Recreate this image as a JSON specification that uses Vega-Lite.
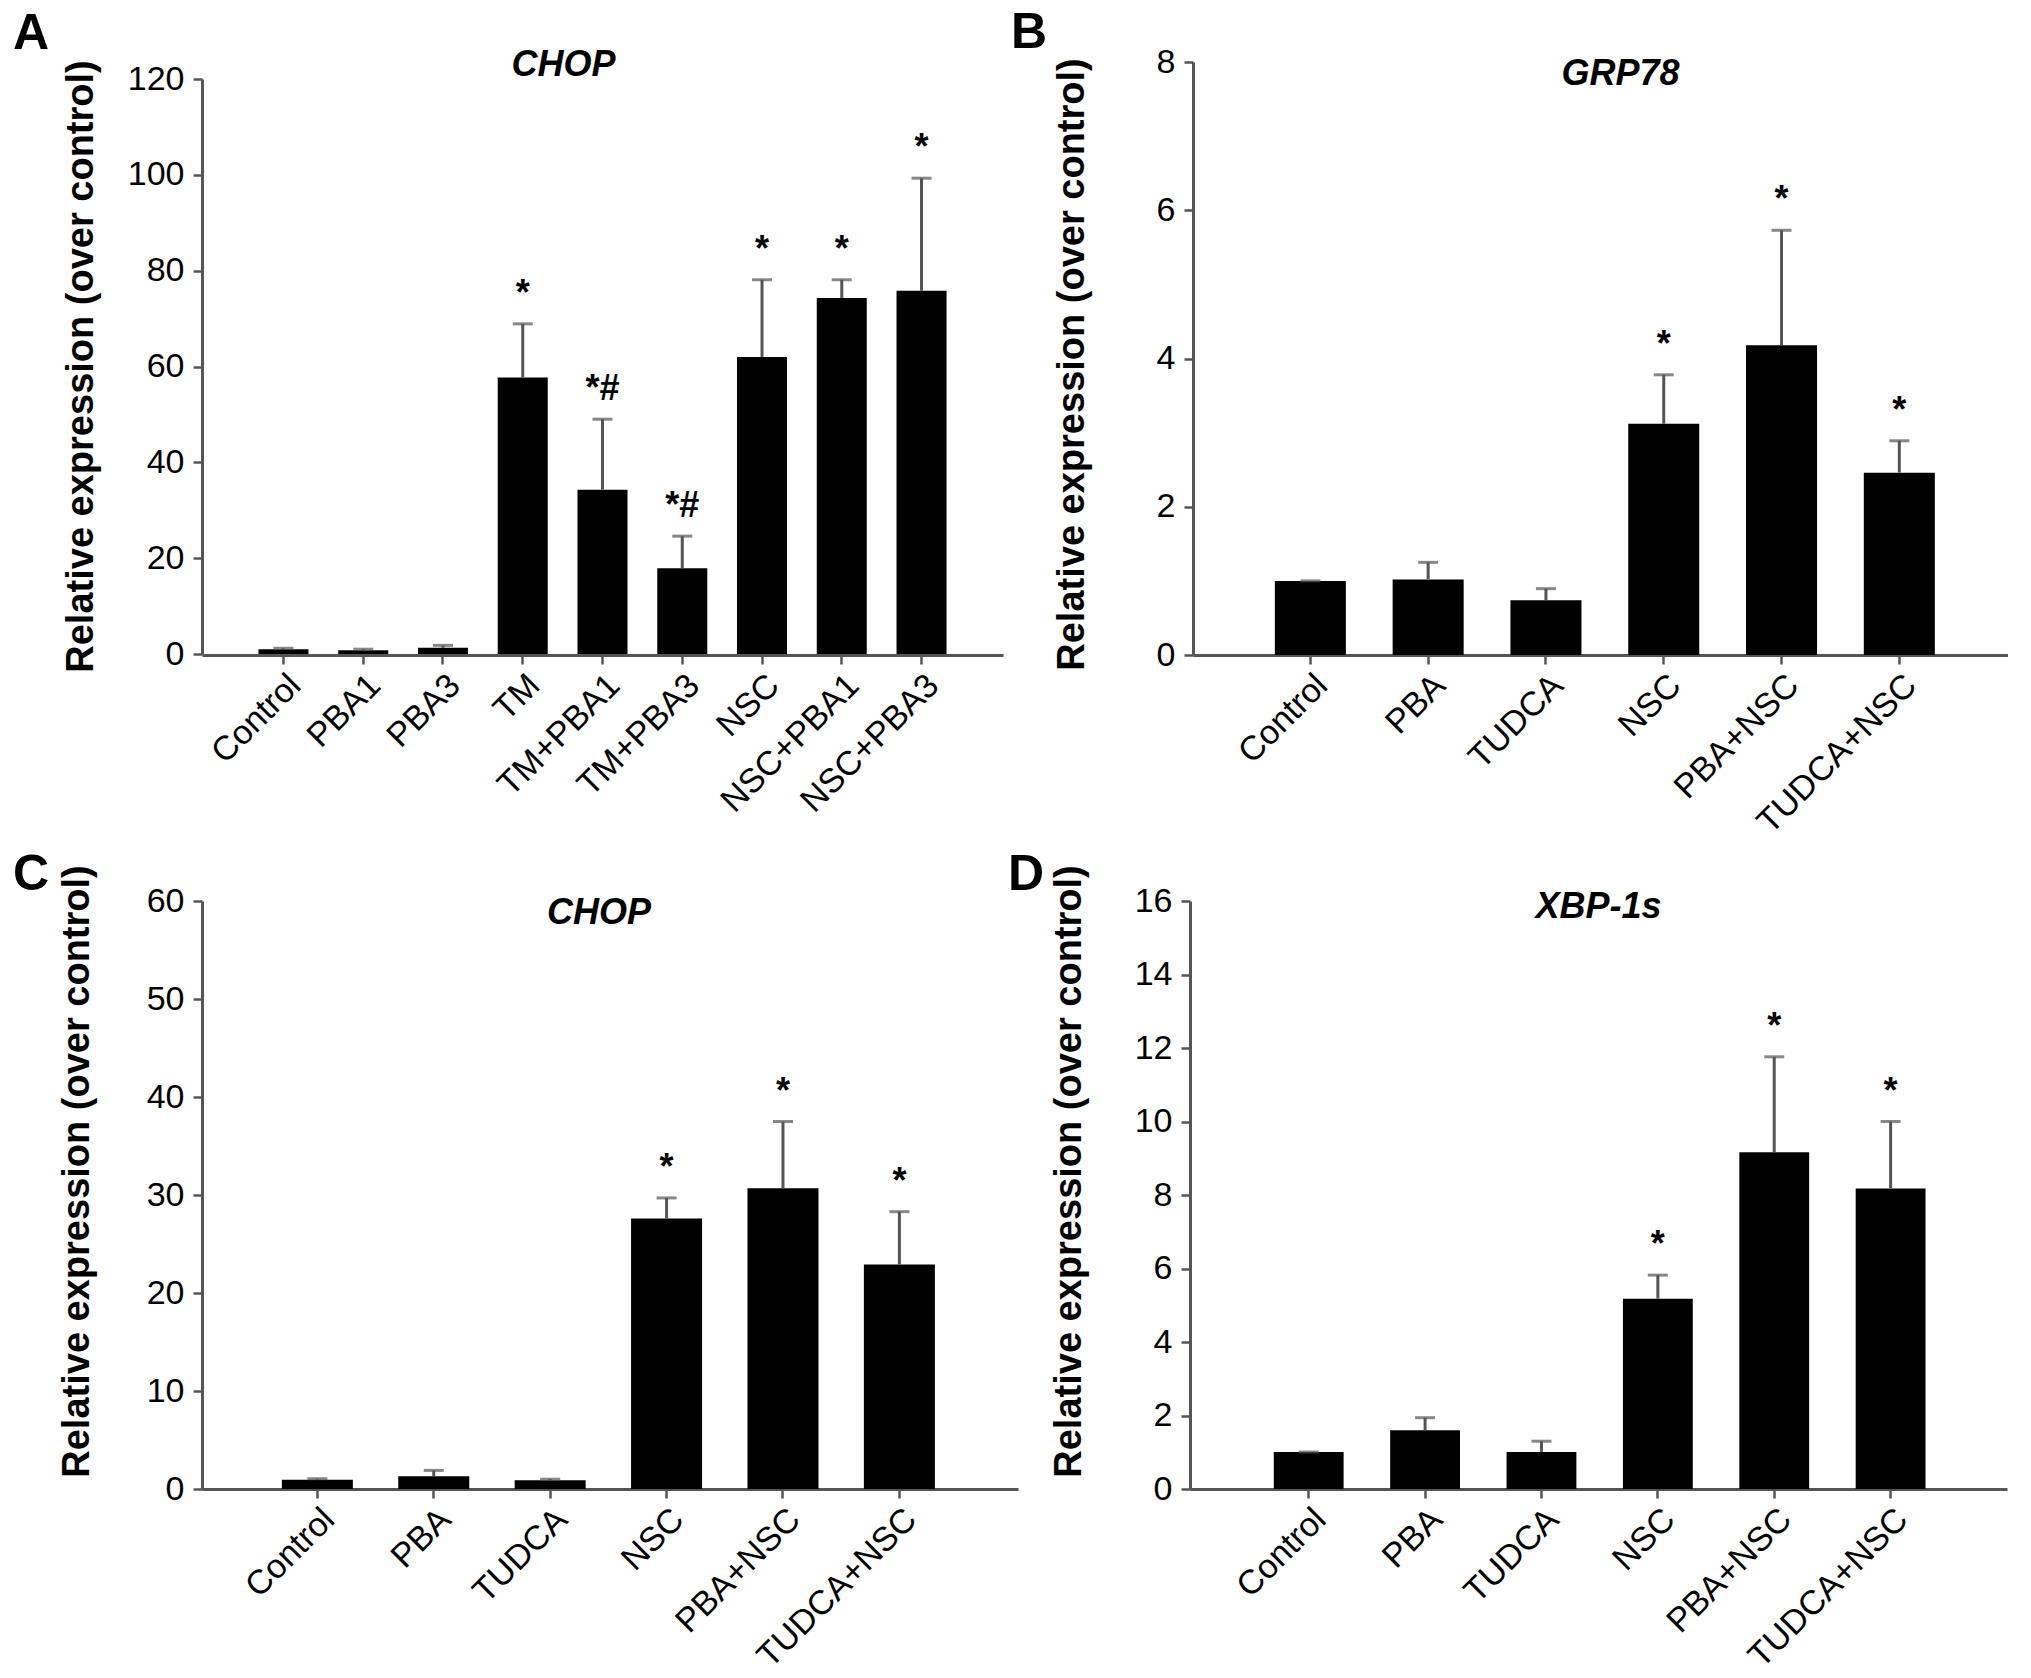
{
  "$schema": "https://vega.github.io/schema/vega-lite/v6.json",
  "background": "white",
  "padding": {"left": 12, "top": 8, "right": 0, "bottom": 0},
  "datasets": {
    "a": [
      {"g": "Control", "mean": 1.0, "upper": 1.2, "sig": ""},
      {"g": "PBA1", "mean": 0.8, "upper": 1.0, "sig": ""},
      {"g": "PBA3", "mean": 1.3, "upper": 1.8, "sig": ""},
      {"g": "TM", "mean": 57.7, "upper": 68.9, "sig": "*"},
      {"g": "TM+PBA1", "mean": 34.3, "upper": 49.0, "sig": "*#"},
      {"g": "TM+PBA3", "mean": 17.9, "upper": 24.6, "sig": "*#"},
      {"g": "NSC", "mean": 62.0, "upper": 78.1, "sig": "*"},
      {"g": "NSC+PBA1", "mean": 74.3, "upper": 78.1, "sig": "*"},
      {"g": "NSC+PBA3", "mean": 75.8, "upper": 99.3, "sig": "*"}
    ],
    "b": [
      {"g": "Control", "mean": 1.0, "upper": 1.0, "sig": ""},
      {"g": "PBA", "mean": 1.02, "upper": 1.25, "sig": ""},
      {"g": "TUDCA", "mean": 0.74, "upper": 0.895, "sig": ""},
      {"g": "NSC", "mean": 3.12, "upper": 3.78, "sig": "*"},
      {"g": "PBA+NSC", "mean": 4.18, "upper": 5.73, "sig": "*"},
      {"g": "TUDCA+NSC", "mean": 2.46, "upper": 2.89, "sig": "*"}
    ],
    "c": [
      {"g": "Control", "mean": 0.95, "upper": 1.05, "sig": ""},
      {"g": "PBA", "mean": 1.3, "upper": 1.9, "sig": ""},
      {"g": "TUDCA", "mean": 0.9, "upper": 1.0, "sig": ""},
      {"g": "NSC", "mean": 27.6, "upper": 29.7, "sig": "*"},
      {"g": "PBA+NSC", "mean": 30.7, "upper": 37.5, "sig": "*"},
      {"g": "TUDCA+NSC", "mean": 22.9, "upper": 28.3, "sig": "*"}
    ],
    "d": [
      {"g": "Control", "mean": 1.01, "upper": 1.01, "sig": ""},
      {"g": "PBA", "mean": 1.6, "upper": 1.94, "sig": ""},
      {"g": "TUDCA", "mean": 1.01, "upper": 1.3, "sig": ""},
      {"g": "NSC", "mean": 5.18, "upper": 5.82, "sig": "*"},
      {"g": "PBA+NSC", "mean": 9.16, "upper": 11.76, "sig": "*"},
      {"g": "TUDCA+NSC", "mean": 8.18, "upper": 10.0, "sig": "*"}
    ]
  },
  "spacing": 9,
  "vconcat": [
    {
      "spacing": 8,
      "hconcat": [
        {
          "title": {"text": "A", "anchor": "start", "frame": "bounds", "fontSize": 50, "fontWeight": "bold", "offset": 0, "baseline": "alphabetic", "dx": -49, "dy": 52},
          "vconcat": [
            {
              "width": 801, "height": 593,
              "title": {"text": "CHOP", "fontSize": 36, "fontStyle": "italic", "fontWeight": "bold", "frame": "group", "anchor": "middle", "dx": -39, "dy": 52, "offset": 0, "baseline": "alphabetic"},
              "data": {"name": "a"},
              "encoding": {
                "x": {"field": "g", "type": "nominal", "sort": null, "title": null,
                  "scale": {"paddingInner": 0.373, "paddingOuter": 0.708, "align": 0.5},
                  "axis": {"labelAngle": -45}}
              },
              "layer": [
                {"mark": {"type": "bar", "color": "black"},
                 "encoding": {"y": {"field": "mean", "type": "quantitative", "title": "Relative expression (over control)",
                   "scale": {"domain": [0, 120], "range": [592, 17], "nice": false},
                   "axis": {"values": [0, 20, 40, 60, 80, 100, 120], "format": "d", "titleX": -110, "titleY": 304}}}},
                {"mark": {"type": "rule", "color": "#555555", "strokeWidth": 3},
                 "encoding": {"y": {"field": "mean", "type": "quantitative"}, "y2": {"field": "upper"}}},
                {"mark": {"type": "tick", "color": "#555555", "thickness": 3, "size": 20},
                 "encoding": {"y": {"field": "upper", "type": "quantitative"}}},
                {"mark": {"type": "text", "fontSize": 36, "fontWeight": "bold", "baseline": "alphabetic", "dy": -19, "color": "black"},
                 "encoding": {"y": {"field": "upper", "type": "quantitative"}, "text": {"field": "sig"}}}
              ]
            }
          ]
        },
        {
          "title": {"text": "B", "anchor": "start", "frame": "bounds", "fontSize": 50, "fontWeight": "bold", "offset": 0, "baseline": "alphabetic", "dx": -42, "dy": 53},
          "vconcat": [
            {
              "width": 815, "height": 593,
              "title": {"text": "GRP78", "fontSize": 36, "fontStyle": "italic", "fontWeight": "bold", "frame": "group", "anchor": "middle", "dx": 20, "dy": 76, "offset": 0, "baseline": "alphabetic"},
              "data": {"name": "b"},
              "encoding": {
                "x": {"field": "g", "type": "nominal", "sort": null, "title": null,
                  "scale": {"paddingInner": 0.397, "paddingOuter": 0.658, "align": 0.528},
                  "axis": {"labelAngle": -45}}
              },
              "layer": [
                {"mark": {"type": "bar", "color": "black"},
                 "encoding": {"y": {"field": "mean", "type": "quantitative", "title": "Relative expression (over control)",
                   "scale": {"domain": [0, 8], "nice": false},
                   "axis": {"values": [0, 2, 4, 6, 8], "format": "d", "titleX": -110, "titleY": 302}}}},
                {"mark": {"type": "rule", "color": "#555555", "strokeWidth": 3},
                 "encoding": {"y": {"field": "mean", "type": "quantitative"}, "y2": {"field": "upper"}}},
                {"mark": {"type": "tick", "color": "#555555", "thickness": 3, "size": 20},
                 "encoding": {"y": {"field": "upper", "type": "quantitative"}}},
                {"mark": {"type": "text", "fontSize": 36, "fontWeight": "bold", "baseline": "alphabetic", "dy": -19, "color": "black"},
                 "encoding": {"y": {"field": "upper", "type": "quantitative"}, "text": {"field": "sig"}}}
              ]
            }
          ]
        }
      ]
    },
    {
      "spacing": -11,
      "hconcat": [
        {
          "title": {"text": "C", "anchor": "start", "frame": "bounds", "fontSize": 50, "fontWeight": "bold", "offset": 0, "baseline": "alphabetic", "dx": -45, "dy": 75},
          "vconcat": [
            {
              "width": 816, "height": 588,
              "title": {"text": "CHOP", "fontSize": 36, "fontStyle": "italic", "fontWeight": "bold", "frame": "group", "anchor": "middle", "dx": -11, "dy": 95, "offset": 0, "baseline": "alphabetic"},
              "data": {"name": "c"},
              "encoding": {
                "x": {"field": "g", "type": "nominal", "sort": null, "title": null,
                  "scale": {"paddingInner": 0.39, "paddingOuter": 0.7, "align": 0.49},
                  "axis": {"labelAngle": -45}}
              },
              "layer": [
                {"mark": {"type": "bar", "color": "black"},
                 "encoding": {"y": {"field": "mean", "type": "quantitative", "title": "Relative expression (over control)",
                   "scale": {"domain": [0, 60], "nice": false},
                   "axis": {"values": [0, 10, 20, 30, 40, 50, 60], "format": "d", "titleX": -114, "titleY": 270}}}},
                {"mark": {"type": "rule", "color": "#555555", "strokeWidth": 3},
                 "encoding": {"y": {"field": "mean", "type": "quantitative"}, "y2": {"field": "upper"}}},
                {"mark": {"type": "tick", "color": "#555555", "thickness": 3, "size": 20},
                 "encoding": {"y": {"field": "upper", "type": "quantitative"}}},
                {"mark": {"type": "text", "fontSize": 36, "fontWeight": "bold", "baseline": "alphabetic", "dy": -19, "color": "black"},
                 "encoding": {"y": {"field": "upper", "type": "quantitative"}, "text": {"field": "sig"}}}
              ]
            }
          ]
        },
        {
          "title": {"text": "D", "anchor": "start", "frame": "bounds", "fontSize": 50, "fontWeight": "bold", "offset": 0, "baseline": "alphabetic", "dx": -42, "dy": 75},
          "vconcat": [
            {
              "width": 817, "height": 588,
              "title": {"text": "XBP-1s", "fontSize": 36, "fontStyle": "italic", "fontWeight": "bold", "frame": "group", "anchor": "middle", "dx": 0, "dy": 89, "offset": 0, "baseline": "alphabetic"},
              "data": {"name": "d"},
              "encoding": {
                "x": {"field": "g", "type": "nominal", "sort": null, "title": null,
                  "scale": {"paddingInner": 0.4, "paddingOuter": 0.71, "align": 0.507},
                  "axis": {"labelAngle": -45}}
              },
              "layer": [
                {"mark": {"type": "bar", "color": "black"},
                 "encoding": {"y": {"field": "mean", "type": "quantitative", "title": "Relative expression (over control)",
                   "scale": {"domain": [0, 16], "nice": false},
                   "axis": {"values": [0, 2, 4, 6, 8, 10, 12, 14, 16], "format": "d", "titleX": -110, "titleY": 270}}}},
                {"mark": {"type": "rule", "color": "#555555", "strokeWidth": 3},
                 "encoding": {"y": {"field": "mean", "type": "quantitative"}, "y2": {"field": "upper"}}},
                {"mark": {"type": "tick", "color": "#555555", "thickness": 3, "size": 20},
                 "encoding": {"y": {"field": "upper", "type": "quantitative"}}},
                {"mark": {"type": "text", "fontSize": 36, "fontWeight": "bold", "baseline": "alphabetic", "dy": -19, "color": "black"},
                 "encoding": {"y": {"field": "upper", "type": "quantitative"}, "text": {"field": "sig"}}}
              ]
            }
          ]
        }
      ]
    }
  ],
  "config": {
    "font": "Liberation Sans",
    "view": {"stroke": null},
    "axis": {
      "grid": false,
      "domainColor": "#555555", "domainWidth": 3,
      "tickColor": "#555555", "tickWidth": 2.5, "tickSize": 9,
      "labelColor": "#000000", "labelFont": "Liberation Sans", "labelFontSize": 34, "labelPadding": 9,
      "labelOverlap": false, "labelFlush": false, "labelLimit": 0,
      "titleFont": "Liberation Sans", "titleFontSize": 38, "titleFontWeight": "bold", "titleColor": "#000000",
      "titleBaseline": "alphabetic"
    },
    "axisX": {"labelPadding": 4},
    "title": {"font": "Liberation Sans", "color": "#000000"}
  }
}
